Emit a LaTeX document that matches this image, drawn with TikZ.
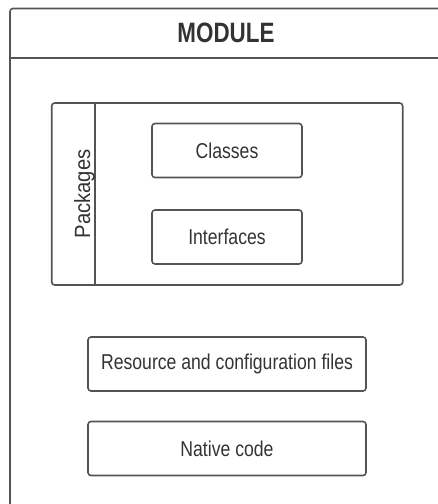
\documentclass[tikz,border=0pt]{standalone}
\usepackage{fontspec}
\setmainfont{Liberation Sans}[FakeStretch=0.82]
\newfontfamily\titlefont{Liberation Sans}[FakeStretch=0.8]
\newfontfamily\pkgfont{Liberation Sans}[FakeStretch=0.92]
\usetikzlibrary{positioning}
\definecolor{mgray}{rgb}{0.33, 0.33, 0.33}
\definecolor{mtext}{rgb}{0.2, 0.2, 0.2}
\tikzset{frame/.style = {draw = mgray, line width = 1.6pt}}
\tikzset{box/.style = {frame, rounded corners = 3pt, minimum height = 54, inner sep = 0, text = mtext, font = \fontsize{21.5}{23}\selectfont}}
\tikzset{title/.style = {text = mtext, inner sep = 0, font = \titlefont\fontsize{28}{30}\selectfont\bfseries}}

\begin{document}
\begin{tikzpicture}[x = 1pt, y = -1pt]
      \useasboundingbox (0, 0) rectangle (438, 504);
      \clip (0, 0) rectangle (438, 504);

      \draw [frame, rounded corners = 3pt] (10, 8.5) rectangle (470, 540);
      \draw [frame] (10, 58) -- (470, 58);
      \node [title] (module) at (226, 33) {MODULE};

      \node [box, minimum width = 351, minimum height = 182] (packages) at (227.2, 194) {};
      \draw [frame] ([xshift = 44pt] packages.north west) -- ([xshift = 44pt] packages.south west);
      \node [text = mtext, inner sep = 0, rotate = 90, anchor = base, font = \pkgfont\fontsize{22}{24}\selectfont] (pkglabel) at (90, 194) {Packages};

      \node [box, minimum width = 150] (classes) at (227, 150.5) {Classes};
      \node [box, minimum width = 150] (interfaces) at (227, 237) {Interfaces};

      \node [box, minimum width = 278] (resources) at (227, 364) {Resource and configuration files};
      \node [box, minimum width = 278] (native) at (227, 448.5) {Native code};
    \end{tikzpicture}
\end{document}
